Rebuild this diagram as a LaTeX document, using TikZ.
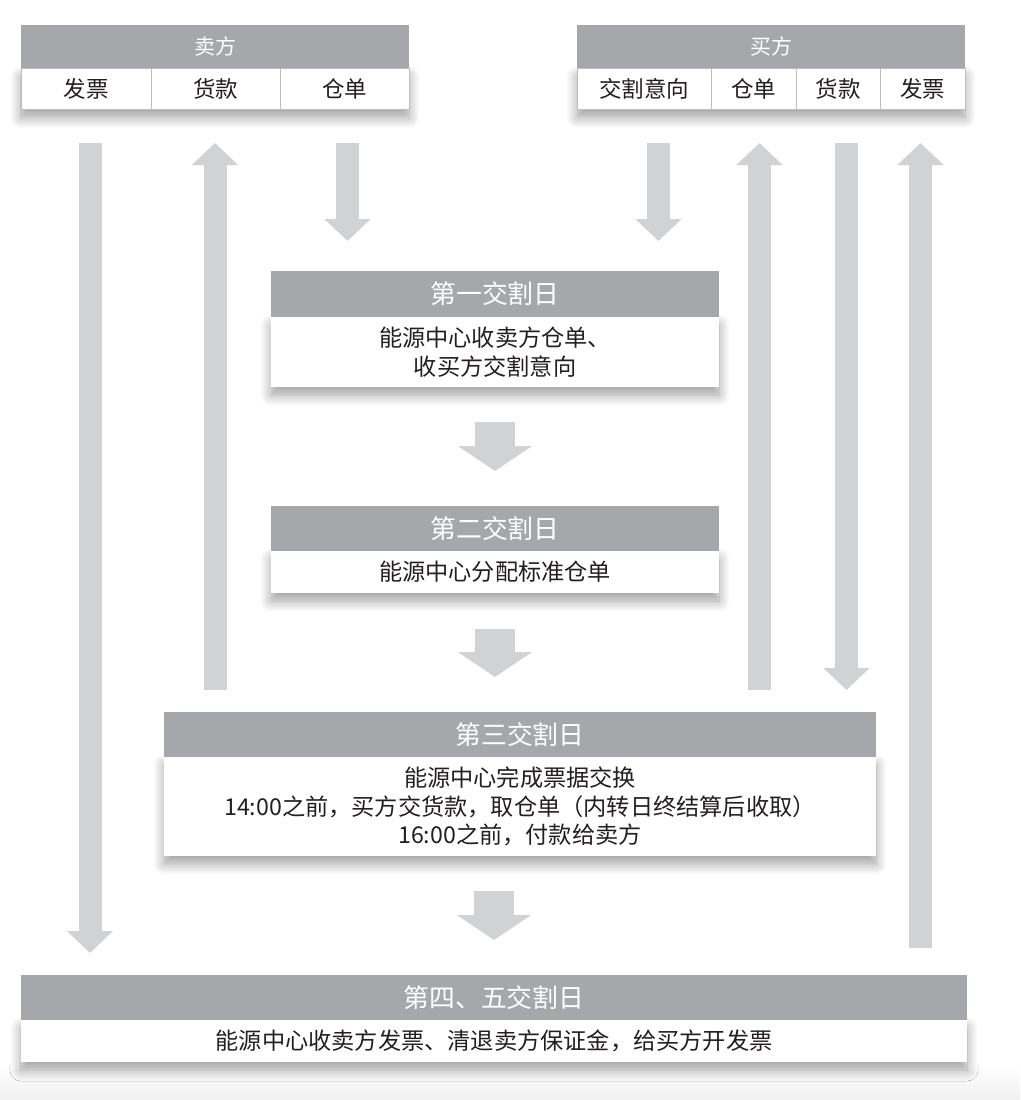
\documentclass[tikz,border=0pt]{standalone}
\usepackage{fontspec}
\setmainfont{Noto Sans CJK SC}
\usetikzlibrary{arrows.meta,shadows.blur}
\definecolor{hd}{RGB}{166, 167, 170}
\definecolor{ar}{RGB}{209, 210, 212}
\definecolor{ln}{RGB}{190, 190, 192}
\definecolor{tx}{RGB}{35, 31, 32}

\begin{document}
\begin{tikzpicture}[x=1pt, y=-1pt,
  every node/.style={inner sep=0pt, outer sep=0pt},
  dayhead/.style={rectangle, fill=hd, text=white, minimum height=45pt, font=\fontsize{25.8}{30}\selectfont},
  sidehead/.style={rectangle, fill=hd, text=white, minimum height=43pt, font=\fontsize{21}{25}\selectfont},
  cell/.style={rectangle, draw=ln, line width=0.8pt, fill=white, text=tx, minimum height=41pt, font=\fontsize{22.5}{26}\selectfont},
  panel/.style={rectangle, fill=white, text=tx, align=center, font=\fontsize{23.2}{28.5}\selectfont,
    blur shadow={shadow xshift=0pt, shadow yshift=-8pt, shadow blur radius=11pt, shadow blur steps=12, shadow opacity=38}},
  thinflow/.style={draw=ar, line width=23pt, -{Triangle[width=45pt, length=22pt]}},
  fatflow/.style={draw=ar, line width=40pt, -{Triangle[width=73pt, length=25pt]}}]
\useasboundingbox (0,0) rectangle (1020,1100);
\shade [top color=white, bottom color=black!6] (0,1066) rectangle (1020,1100);

% seller
\node (sellrow) [panel, minimum width=388pt, minimum height=41pt] at (215,89) {};
\node (sell) [sidehead, minimum width=388pt] at (215,46.5) {卖方};
\node (sfp) [cell, minimum width=130pt] at (86,89) {发票};
\node (shk) [cell, minimum width=129pt] at (215.5,89) {货款};
\node (scd) [cell, minimum width=129pt] at (344.5,89) {仓单};

% buyer
\node (buyrow) [panel, minimum width=388pt, minimum height=41pt] at (771,89) {};
\node (buy) [sidehead, minimum width=388pt] at (771,46.5) {买方};
\node (byx) [cell, minimum width=134pt] at (644,89) {交割意向};
\node (bcd) [cell, minimum width=85pt] at (753.5,89) {仓单};
\node (bhk) [cell, minimum width=84pt] at (838,89) {货款};
\node (bfp) [cell, minimum width=85pt] at (922.5,89) {发票};

% delivery days
\node (d1body) [panel, minimum width=448pt, minimum height=70pt] at (495,352) {能源中心收卖方仓单、\\收买方交割意向};
\node (d1) [dayhead, minimum width=448pt, minimum height=46pt] at (495,294) {第一交割日};
\node (d2body) [panel, minimum width=448pt, minimum height=42pt] at (495,572) {能源中心分配标准仓单};
\node (d2) [dayhead, minimum width=448pt] at (495,528.5) {第二交割日};
\node (d3body) [panel, minimum width=712pt, minimum height=99pt] at (520,806.5) {能源中心完成票据交换\\14:00之前，买方交货款，取仓单（内转日终结算后收取）\\16:00之前，付款给卖方};
\node (d3) [dayhead, minimum width=712pt] at (520,734.5) {第三交割日};
\node (d4body) [panel, minimum width=946pt, minimum height=42pt] at (494,1041) {能源中心收卖方发票、清退卖方保证金，给买方开发票};
\node (d4) [dayhead, minimum width=946pt] at (494,997.5) {第四、五交割日};

% arrow ends
\coordinate (sfp0) at (90,143);
\coordinate (sfp1) at (90,953);
\coordinate (shk0) at (215,690);
\coordinate (shk1) at (215,143);
\coordinate (scd0) at (347.5,143);
\coordinate (scd1) at (347.5,241);
\coordinate (byx0) at (658.5,143);
\coordinate (byx1) at (658.5,241);
\coordinate (bcd0) at (759.5,690);
\coordinate (bcd1) at (759.5,143);
\coordinate (bhk0) at (846.5,143);
\coordinate (bhk1) at (846.5,690);
\coordinate (bfp0) at (920.5,948);
\coordinate (bfp1) at (920.5,143);
\coordinate (m30) at (494,891);
\coordinate (m31) at (494,940);

\draw [thinflow] (sfp0) -- (sfp1);
\draw [thinflow] (shk0) -- (shk1);
\draw [thinflow] (scd0) -- (scd1);
\draw [thinflow] (byx0) -- (byx1);
\draw [thinflow] (bcd0) -- (bcd1);
\draw [thinflow] (bhk0) -- (bhk1);
\draw [thinflow] (bfp0) -- (bfp1);

\draw [fatflow] ([yshift=-35pt]d1body.south) -- ([yshift=35pt]d2.north);
\draw [fatflow] ([yshift=-36pt]d2body.south) -- ([yshift=35pt]d3.north -| d2.north);
\draw [fatflow] (m30) -- (m31);
\end{tikzpicture}
\end{document}
